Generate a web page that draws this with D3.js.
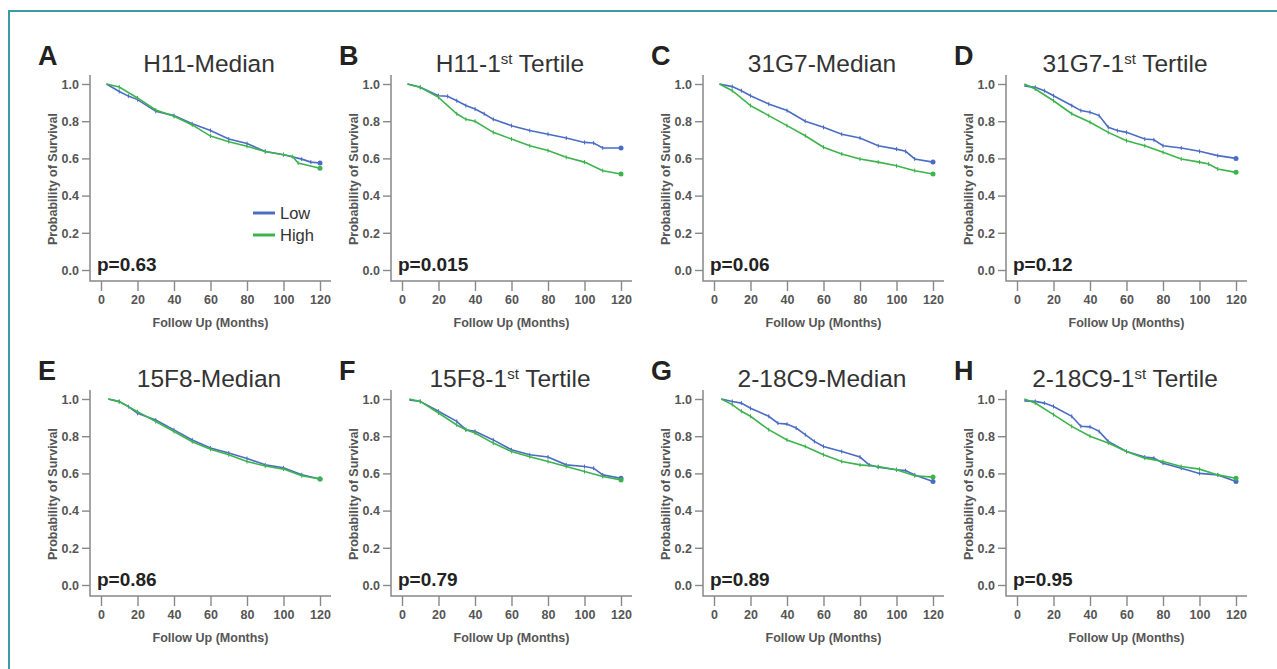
<!DOCTYPE html>
<html>
<head>
<meta charset="utf-8">
<script src="https://cdn.jsdelivr.net/npm/d3@7"></script>
<style>
  body { margin: 0; background: #fff; }
  svg { display: block; font-family: "Liberation Sans", Arial, sans-serif; }
  .tick text { font-weight: bold; fill: #555; font-size: 12.5px; }
  .tick line { stroke: #888; stroke-width: 1.4; }
</style>
</head>
<body>
<div id="chart"></div>
<script>
// data
var letters = ['A', 'B', 'C', 'D', 'E', 'F', 'G', 'H'];
var titleMain = ['H11-', 'H11-1', '31G7-', '31G7-1', '15F8-', '15F8-1', '2-18C9-', '2-18C9-1'];
var titleSup = ['', 'st', '', 'st', '', 'st', '', 'st'];
var titleRest = ['Median', ' Tertile', 'Median', ' Tertile', 'Median', ' Tertile', 'Median', ' Tertile'];
var pValues = ['p=0.63', 'p=0.015', 'p=0.06', 'p=0.12', 'p=0.86', 'p=0.79', 'p=0.89', 'p=0.95'];
var xTicks = [0, 20, 40, 60, 80, 100, 120];
var yTicks = [0.0, 0.2, 0.4, 0.6, 0.8, 1.0];
var seriesNames = ['Low', 'High'];

// [month, survival]
var lowA  = [[3,1],[10,0.96],[15,0.935],[20,0.916],[30,0.853],[40,0.83],[50,0.786],[60,0.75],[70,0.704],[80,0.68],[90,0.637],[100,0.62],[110,0.596],[115,0.58],[120,0.575]];
var highA = [[3,1],[10,0.984],[20,0.925],[30,0.86],[40,0.826],[50,0.78],[60,0.72],[70,0.69],[80,0.665],[90,0.637],[100,0.62],[105,0.61],[108,0.575],[120,0.547]];
var lowB  = [[3,1],[10,0.982],[20,0.937],[25,0.934],[30,0.91],[35,0.884],[40,0.866],[45,0.84],[50,0.81],[60,0.776],[70,0.75],[80,0.73],[90,0.71],[100,0.686],[105,0.683],[110,0.656],[120,0.656]];
var highB = [[3,1],[10,0.982],[20,0.928],[30,0.84],[35,0.81],[40,0.8],[50,0.74],[60,0.704],[70,0.668],[80,0.642],[90,0.606],[100,0.58],[110,0.534],[120,0.516]];
var lowC  = [[3,1],[10,0.986],[15,0.964],[20,0.937],[30,0.892],[40,0.857],[50,0.8],[60,0.767],[70,0.73],[80,0.71],[90,0.668],[100,0.65],[105,0.638],[110,0.597],[120,0.58]];
var highC = [[3,1],[10,0.964],[20,0.884],[30,0.83],[40,0.776],[50,0.722],[60,0.66],[70,0.624],[80,0.597],[90,0.58],[100,0.56],[110,0.534],[120,0.516]];
var lowD  = [[4,0.99],[10,0.982],[15,0.964],[20,0.937],[30,0.884],[35,0.857],[40,0.848],[45,0.83],[50,0.767],[55,0.75],[60,0.74],[70,0.704],[75,0.7],[80,0.668],[90,0.656],[100,0.638],[110,0.615],[120,0.6]];
var highD = [[4,1],[10,0.973],[20,0.91],[30,0.84],[40,0.794],[50,0.74],[60,0.695],[70,0.668],[80,0.633],[90,0.597],[100,0.58],[105,0.57],[110,0.543],[120,0.525]];
var lowE  = [[4,1],[10,0.986],[15,0.959],[20,0.923],[30,0.887],[40,0.834],[50,0.78],[60,0.736],[70,0.71],[80,0.68],[90,0.646],[100,0.63],[110,0.593],[120,0.57]];
var highE = [[4,1],[10,0.986],[20,0.932],[30,0.879],[40,0.825],[50,0.77],[60,0.73],[70,0.7],[80,0.664],[90,0.64],[100,0.623],[110,0.587],[120,0.57]];
var lowF  = [[4,0.995],[10,0.987],[20,0.934],[30,0.88],[35,0.835],[40,0.826],[50,0.78],[60,0.727],[70,0.7],[80,0.688],[90,0.646],[100,0.637],[105,0.628],[110,0.592],[120,0.574]];
var highF = [[4,1],[10,0.987],[20,0.925],[30,0.86],[35,0.835],[40,0.817],[50,0.763],[60,0.718],[70,0.69],[80,0.664],[90,0.637],[100,0.61],[110,0.583],[120,0.565]];
var lowG  = [[4,1],[10,0.987],[15,0.978],[20,0.95],[30,0.907],[35,0.87],[40,0.865],[45,0.844],[50,0.808],[55,0.772],[60,0.745],[70,0.718],[80,0.688],[85,0.646],[90,0.633],[100,0.62],[105,0.615],[110,0.592],[120,0.557]];
var highG = [[4,1],[10,0.97],[15,0.934],[20,0.907],[30,0.835],[40,0.78],[50,0.745],[60,0.7],[70,0.664],[80,0.646],[90,0.637],[100,0.62],[110,0.587],[120,0.58]];
var lowH  = [[4,0.99],[10,0.987],[15,0.978],[20,0.96],[30,0.907],[35,0.853],[40,0.85],[45,0.826],[50,0.772],[60,0.718],[70,0.688],[75,0.682],[80,0.655],[90,0.628],[100,0.6],[110,0.592],[120,0.557]];
var highH = [[4,1],[10,0.978],[20,0.916],[30,0.853],[40,0.8],[50,0.763],[60,0.718],[70,0.682],[80,0.664],[90,0.637],[100,0.623],[110,0.592],[120,0.574]];

var lows = [lowA, lowB, lowC, lowD, lowE, lowF, lowG, lowH];
var highs = [highA, highB, highC, highD, highE, highF, highG, highH];

var colors = {Low: '#4a6cc4', High: '#3cb44c'};

var W = 1277, H = 669;
var colX = [101, 402, 714, 1017];
var rowY = [84, 399];
var plotW = 219, plotH = 186;

var svg = d3.select('#chart')
    .append('svg')
    .attr('width', W)
    .attr('height', H);

// teal frame
svg.append('path')
    .attr('d', 'M9,' + (H + 5) + 'V11H' + (W + 5))
    .attr('fill', 'none')
    .attr('stroke', '#3a9ba5')
    .attr('stroke-width', 2);

var x = d3.scaleLinear().domain([0, 120]).range([0, plotW]);
var y = d3.scaleLinear().domain([0, 1]).range([plotH, 0]);

var line = d3.line()
    .x(function(d) { return x(d[0]) })
    .y(function(d) { return y(d[1]) });

letters.forEach(function(letter, i) {
    var g = svg.append('g')
        .attr('transform', 'translate(' + colX[i % 4] + ',' + rowY[Math.floor(i / 4)] + ')');

    // axes
    var yAxis = g.append('g')
        .attr('transform', 'translate(-11,0)')
        .call(d3.axisLeft(y).tickValues(yTicks).tickSize(8).tickPadding(3).tickFormat(d3.format('.1f')));
    yAxis.select('.domain').remove();
    yAxis.selectAll('.tick text').attr('dy', '0.35em');

    var xAxis = g.append('g')
        .attr('transform', 'translate(0,' + (plotH + 11) + ')')
        .call(d3.axisBottom(x).tickValues(xTicks).tickSize(10).tickPadding(4));
    xAxis.select('.domain').remove();

    g.append('path')
        .attr('d', 'M-11,-9V' + (plotH + 11) + 'H' + (plotW + 11))
        .attr('fill', 'none')
        .attr('stroke', '#888')
        .attr('stroke-width', 1.5);

    // axis titles
    g.append('text')
        .attr('transform', 'translate(-48,' + (plotH / 2 + 2) + ') rotate(-90)')
        .attr('text-anchor', 'middle')
        .attr('dy', '0.35em')
        .attr('font-size', 12.5)
        .attr('font-weight', 'bold')
        .attr('fill', '#555')
        .text('Probability of Survival');

    g.append('text')
        .attr('x', plotW / 2)
        .attr('y', plotH + 57)
        .attr('text-anchor', 'middle')
        .attr('font-size', 12.5)
        .attr('font-weight', 'bold')
        .attr('fill', '#555')
        .text('Follow Up (Months)');

    // curves
    [lows[i], highs[i]].forEach(function(series, k) {
        var col = colors[seriesNames[k]];
        g.append('path')
            .datum(series)
            .attr('d', line)
            .attr('fill', 'none')
            .attr('stroke', col)
            .attr('stroke-width', 1.6);

        g.selectAll('.cens' + k)
            .data(series.slice(1, -1))
            .enter()
            .append('line')
            .attr('x1', function(d) { return x(d[0]) })
            .attr('x2', function(d) { return x(d[0]) })
            .attr('y1', function(d) { return y(d[1]) - 2 })
            .attr('y2', function(d) { return y(d[1]) + 2 })
            .attr('stroke', col)
            .attr('stroke-width', 1);

        var last = series[series.length - 1];
        g.append('circle')
            .attr('cx', x(last[0]))
            .attr('cy', y(last[1]))
            .attr('r', 2.5)
            .attr('fill', col);
    });

    // panel letter and title
    g.append('text')
        .attr('x', -63)
        .attr('y', -19)
        .attr('font-size', 27)
        .attr('font-weight', 'bold')
        .attr('fill', '#222')
        .text(letter);

    var t = g.append('text')
        .attr('x', 108)
        .attr('y', -12)
        .attr('text-anchor', 'middle')
        .attr('font-size', 24.5)
        .attr('fill', '#333');
    t.append('tspan').text(titleMain[i]);
    if (titleSup[i]) {
        t.append('tspan').attr('font-size', 15).attr('dy', -8).text(titleSup[i]);
        t.append('tspan').attr('dy', 8).text(titleRest[i]);
    } else {
        t.append('tspan').text(titleRest[i]);
    }

    // p-value
    g.append('text')
        .attr('x', -4)
        .attr('y', plotH + 1)
        .attr('font-size', 19)
        .attr('font-weight', 'bold')
        .attr('fill', '#222')
        .text(pValues[i]);

    // legend (first panel only)
    if (i === 0) {
        seriesNames.forEach(function(name, k) {
            var ly = 129 + k * 22;
            g.append('line')
                .attr('x1', 152).attr('x2', 174)
                .attr('y1', ly).attr('y2', ly)
                .attr('stroke', colors[name])
                .attr('stroke-width', 3);
            g.append('text')
                .attr('x', 179)
                .attr('y', ly)
                .attr('dy', '0.35em')
                .attr('font-size', 16.5)
                .attr('fill', '#333')
                .text(name);
        });
    }
});
</script>
</body>
</html>
